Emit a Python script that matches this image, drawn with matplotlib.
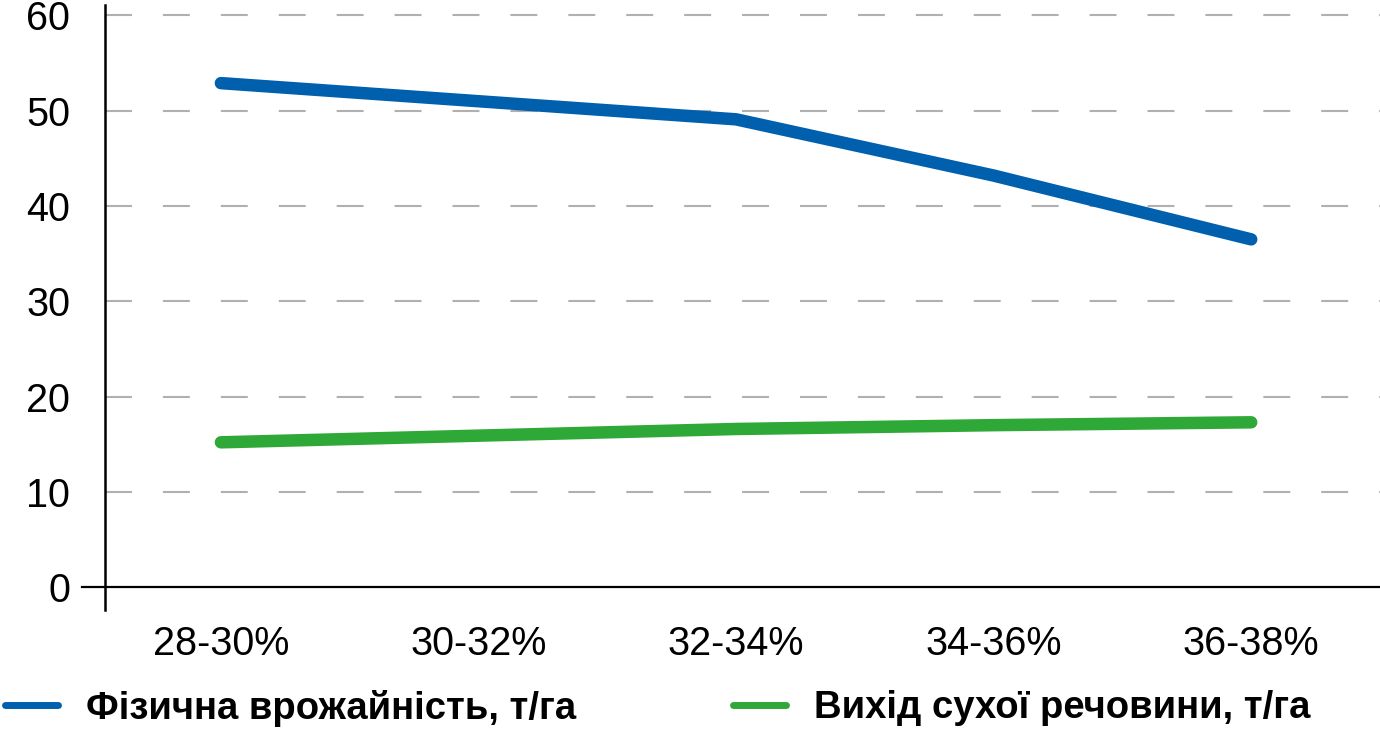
import matplotlib

matplotlib.use("Agg")

import matplotlib.pyplot as plt
from matplotlib.lines import Line2D

categories = ["28-30%", "30-32%", "32-34%", "34-36%", "36-38%"]
yield_phys = [52.9, 51.0, 49.1, 43.2, 36.5]
dry_matter = [15.2, 15.9, 16.6, 17.0, 17.3]
labels = ["Фізична врожайність, т/га", "Вихід сухої речовини, т/га"]
y_ticks = [0, 10, 20, 30, 40, 50, 60]

BLUE = "#0060ae"
GREEN = "#2ea836"

plt.rcParams["font.family"] = ["Liberation Sans", "DejaVu Sans"]
plt.rcParams["lines.scale_dashes"] = False

fig = plt.figure(figsize=(13.8, 7.37), dpi=100)
ax = fig.add_axes([105 / 1380, 127 / 737, 1275 / 1380, 605 / 737])

x = list(range(len(categories)))
ax.plot(x, yield_phys, color=BLUE, lw=9, solid_capstyle="round", solid_joinstyle="miter")
ax.plot(x, dry_matter, color=GREEN, lw=9, solid_capstyle="round")

ax.set_xlim(-0.45, 4.5)
ax.set_ylim(-2.4, 61.1)
ax.set_yticks(y_ticks)
ax.set_xticks(x)
ax.set_xticklabels(categories)

for t in y_ticks[1:]:
    ax.axhline(t, color="#b0b0b0", lw=1.5, ls=(0, (19.4, 22.3)), zorder=0)
ax.axhline(0, xmin=-0.018, xmax=1, color="black", lw=1.6, clip_on=False, zorder=1)

for s in ["top", "right", "bottom"]:
    ax.spines[s].set_visible(False)
ax.spines["left"].set_linewidth(1.8)
ax.tick_params(axis="both", length=0, labelsize=28.5)
ax.tick_params(axis="y", pad=25)
ax.tick_params(axis="x", pad=11)

# two separate legend entries so each sits where the reference puts it
colors = [BLUE, GREEN]
lefts = [5 / 1380, 733 / 1380]
for lab, col, left in zip(labels, colors, lefts):
    h = Line2D([], [], color=col, lw=5, solid_capstyle="round")
    fig.legend([h], [lab], loc="center left", bbox_to_anchor=(left, 0.039),
               frameon=False, prop={"weight": "bold", "size": 27.5},
               handlelength=1.4, handletextpad=0.72,
               borderpad=0, borderaxespad=0)

fig.savefig("out.png", dpi=100)
